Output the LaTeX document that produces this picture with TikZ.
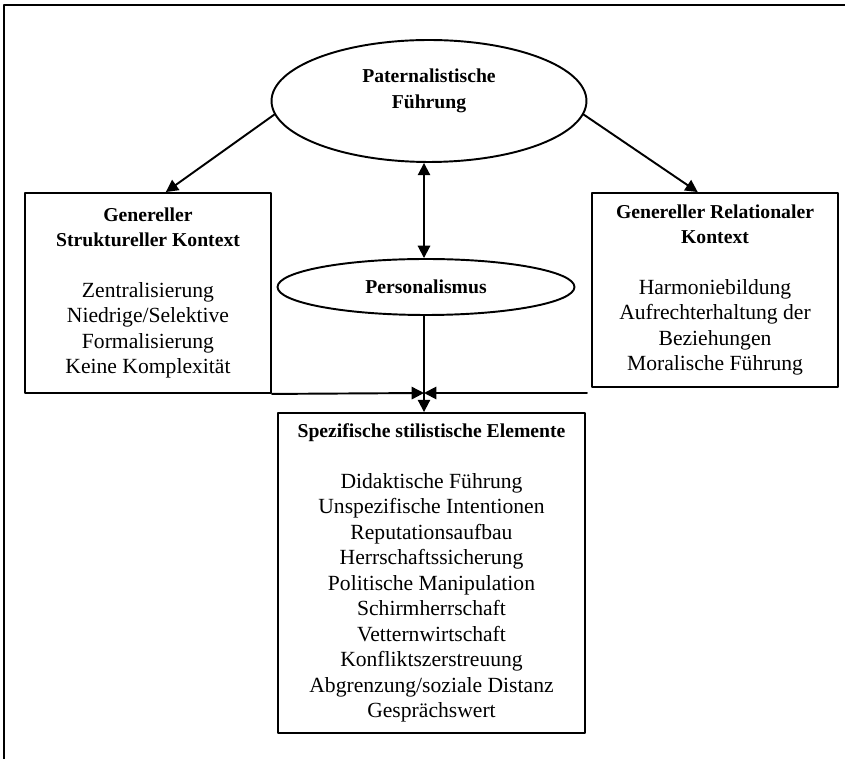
\documentclass[tikz,border=0pt]{standalone}
\usepackage{fontspec}
\setmainfont{Liberation Serif}
\usetikzlibrary{shapes.geometric,arrows.meta}
\newcommand{\boxhead}[1]{{\bfseries\fontsize{11.2}{14.5}\selectfont #1}}
\begin{document}
\begin{tikzpicture}[x=0.02cm,y=-0.02cm,line cap=round,line join=round,
    frame/.style={draw,line width=1.1pt,align=center,inner sep=0pt,
      font=\fontsize{12.3}{14.5}\selectfont},
    oval/.style={frame,ellipse},
    link/.style={line width=1.1pt,-{Triangle[length=7pt,width=7pt]}}]
  \useasboundingbox (0,0) rectangle (845,759);
  % outer frame (top and left edge only)
  \draw[line width=1.1pt] (4,759) -- (4,5) -- (845,5);
  % ellipses
  \node[oval,minimum width=6.3cm,minimum height=2.44cm] (Top) at (429,101)
    {\boxhead{Paternalistische}\\\boxhead{Führung}\\[-5pt]\strut};
  \node[oval,minimum width=5.94cm,minimum height=1.12cm] (Pers) at (426,287)
    {\boxhead{Personalismus}};
  % boxes
  \node[frame,minimum width=4.92cm,minimum height=4cm] (LBox) at (148,293)
    {\boxhead{Genereller}\\\boxhead{Struktureller Kontext}\\[14.5pt]
     Zentralisierung\\Niedrige/Selektive\\Formalisierung\\Keine Komplexität};
  \node[frame,minimum width=4.92cm,minimum height=3.88cm] (RBox) at (715,290)
    {\boxhead{Genereller Relationaler}\\\boxhead{Kontext}\\[14.5pt]
     Harmoniebildung\\Aufrechterhaltung der\\Beziehungen\\Moralische Führung};
  \node[frame,minimum width=6.14cm,minimum height=6.4cm] (Bot) at (431.5,573)
    {\boxhead{Spezifische stilistische Elemente}\\[14.5pt]
     Didaktische Führung\\Unspezifische Intentionen\\Reputationsaufbau\\
     Herrschaftssicherung\\Politische Manipulation\\Schirmherrschaft\\
     Vetternwirtschaft\\Konfliktszerstreuung\\Abgrenzung/soziale Distanz\\
     Gesprächswert};
  \coordinate (jn) at (424,393);
  \coordinate (rEnd) at (587,393);
  % connectors
  \draw[link] (Top.185) -- (LBox.80);
  \draw[link] (Top.355) -- (RBox.100);
  \draw[link,{Triangle[length=7pt,width=7pt]}-{Triangle[length=7pt,width=7pt]}]
    (Top.south -| jn) -- (Pers.north -| jn);
  \draw[line width=1.1pt] (Pers.south -| jn) -- (jn);
  \draw[link] (LBox.south east) -- (jn);
  \draw[link] (rEnd) -- (jn);
  \draw[link] (jn) -- (jn |- Bot.north);
\end{tikzpicture}
\end{document}
